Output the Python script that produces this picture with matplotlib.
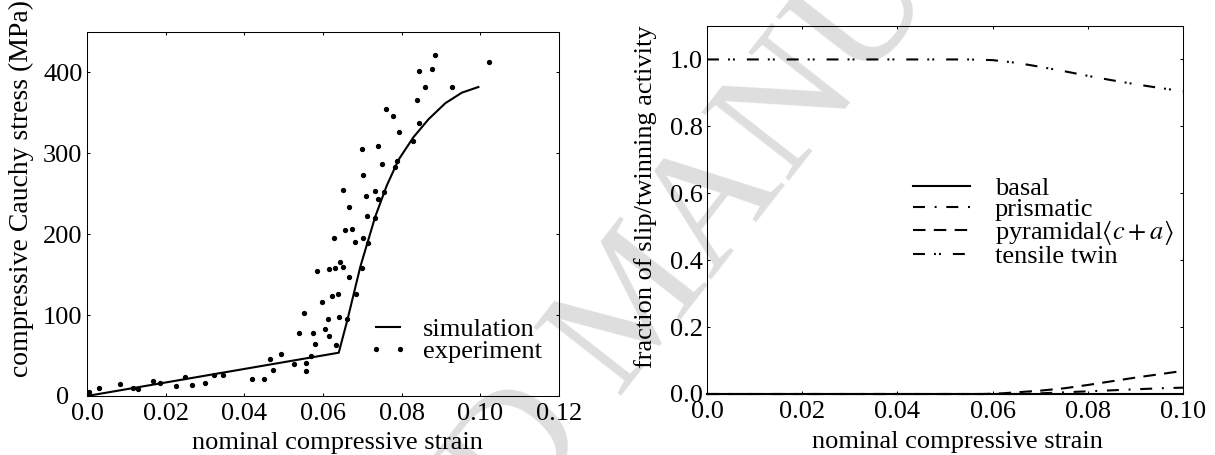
import matplotlib
matplotlib.use("Agg")
import matplotlib.pyplot as plt

plt.rcParams['font.family'] = ['Liberation Serif', 'DejaVu Serif']
plt.rcParams['mathtext.fontset'] = 'stix'
plt.rcParams['font.size'] = 19
plt.rcParams['lines.scale_dashes'] = False

# left panel: stress-strain
sim_strain = [0, 0.064, 0.0662, 0.0695, 0.0733, 0.0762, 0.0792, 0.083, 0.0868, 0.0911, 0.0953, 0.0995]
sim_stress = [0, 53.5, 94, 160, 222, 260, 292, 320, 342, 362, 375, 382]

exp_strain = [0.0006, 0.0031, 0.0085, 0.0117, 0.0130, 0.0169, 0.0185, 0.0227, 0.0250, 0.0268,
              0.0301, 0.0324, 0.0347, 0.0419, 0.0451, 0.0466, 0.0473, 0.0492, 0.0526, 0.0538,
              0.0552, 0.0556, 0.0558, 0.0569, 0.0575, 0.0579, 0.0586, 0.0597, 0.0605, 0.0612,
              0.0615, 0.0615, 0.0622, 0.0627, 0.0630, 0.0633, 0.0638, 0.0640, 0.0642, 0.0650,
              0.0652, 0.0657, 0.0662, 0.0665, 0.0665, 0.0674, 0.0682, 0.0683, 0.0699, 0.0700,
              0.0701, 0.0702, 0.0709, 0.0711, 0.0714, 0.0731, 0.0733, 0.0739, 0.0741, 0.0751,
              0.0756, 0.0760, 0.0778, 0.0784, 0.0789, 0.0792, 0.0830, 0.0839, 0.0843, 0.0843,
              0.0860, 0.0877, 0.0885, 0.0929, 0.1023]
exp_stress = [5, 9.5, 14.4, 9.5, 8.7, 19, 16.5, 12.4, 23, 13.2,
              16, 26.4, 25.6, 20.6, 21.5, 45.8, 32, 52, 40, 77.6,
              103, 31.4, 41.3, 49.5, 78.4, 64, 154.8, 116.8, 83, 95.4,
              74.3, 156.9, 123.8, 195, 157.7, 63.6, 126.7, 98, 165.5, 159,
              255, 205.6, 95, 147, 233.6, 206.4, 190.7, 126, 158, 305.5,
              273, 195.7, 247, 223, 188.6, 254, 220, 309, 243.5, 287,
              252, 355, 346.7, 283, 291, 326.5, 315.8, 365.7, 337, 401.7,
              381.8, 404, 421, 382, 413]

left_xticks = [0, 0.02, 0.04, 0.06, 0.08, 0.10, 0.12]
left_xlabels = ["0.0", "0.02", "0.04", "0.06", "0.08", "0.10", "0.12"]
left_yticks = [0, 100, 200, 300, 400]
left_ylabels = ["0", "100", "200", "300", "400"]

# right panel: activity fractions
basal_x = [0, 0.1]
basal_y = [0, 0]
prism_x = [0, 0.065, 0.07, 0.075, 0.08, 0.085, 0.09, 0.095, 0.1]
prism_y = [0, 0, 0.002, 0.005, 0.008, 0.011, 0.014, 0.017, 0.019]
pyr_x = [0, 0.058, 0.062, 0.066, 0.07, 0.075, 0.08, 0.085, 0.09, 0.095, 0.1]
pyr_y = [0, 0, 0.002, 0.006, 0.010, 0.017, 0.027, 0.038, 0.049, 0.059, 0.069]
twin_x = [0, 0.055, 0.06, 0.065, 0.07, 0.075, 0.08, 0.085, 0.09, 0.095, 0.1]
twin_y = [1.0, 1.0, 0.998, 0.99, 0.978, 0.965, 0.951, 0.938, 0.926, 0.915, 0.905]

right_xticks = [0, 0.02, 0.04, 0.06, 0.08, 0.10]
right_xlabels = ["0.0", "0.02", "0.04", "0.06", "0.08", "0.10"]
right_yticks = [0, 0.2, 0.4, 0.6, 0.8, 1.0]
right_ylabels = ["0.0", "0.2", "0.4", "0.6", "0.8", "1.0"]

fig = plt.figure(figsize=(12.15, 4.55), dpi=100)

# faint watermark behind both panels
fig.text(640 / 1215, 1 - 305 / 455, "ACCEPTED MANUSCRIPT", rotation=52,
         rotation_mode='anchor', ha='center', va='center', fontsize=122,
         color='0.87', zorder=-1)

ax1 = fig.add_axes([87 / 1215, 59 / 455, 472 / 1215, 364 / 455])
ax2 = fig.add_axes([707 / 1215, 61 / 455, 476 / 1215, 368 / 455])

for ax in (ax1, ax2):
    ax.set_facecolor('none')
    ax.tick_params(direction='in', top=True, right=True, length=2.5, width=0.75)
    for s in ax.spines.values():
        s.set_linewidth(0.75)

ax1.plot(sim_strain, sim_stress, color='k', lw=1.5, label="simulation")
ax1.plot(exp_strain, exp_stress, 'o', color='k', markersize=2.8, ls='none', label="experiment")
ax1.set_xlim(0, 0.12)
ax1.set_ylim(0, 450)
ax1.set_xticks(left_xticks)
ax1.set_xticklabels(left_xlabels)
ax1.set_yticks(left_yticks)
ax1.set_yticklabels(left_ylabels)
ax1.tick_params(axis='x', pad=5)
ax1.tick_params(axis='y', pad=17.5)
for lab in ax1.get_yticklabels():
    lab.set_ha('center')
ax1.set_xlabel("nominal compressive strain")
ax1.set_ylabel("compressive Cauchy stress (MPa)", fontsize=20)
ax1.xaxis.set_label_coords(0.53, -0.098)
ax1.yaxis.set_label_coords(-0.112, 0.570)
ax1.legend(loc='upper left', bbox_to_anchor=(0.595, 0.216), frameon=False,
           borderpad=0, borderaxespad=0, handlelength=1.5, handletextpad=0.6,
           labelspacing=-0.06, numpoints=2)

ax2.plot(basal_x, basal_y, color='k', lw=1.5, clip_on=False, label="basal")
ax2.plot(prism_x, prism_y, color='k', lw=1.5, clip_on=False,
         ls=(0, (8.6, 7, 1.4, 7)), label="prismatic")
ax2.plot(pyr_x, pyr_y, color='k', lw=1.5, clip_on=False,
         ls=(0, (9, 6)), label=r"pyramidal$\langle c + a\rangle$")
ax2.plot(twin_x, twin_y, color='k', lw=1.5, clip_on=False,
         ls=(0, (8.6, 6.5, 1.4, 2.2, 1.4, 8.6)), label="tensile twin")
ax2.set_xlim(0, 0.1)
ax2.set_ylim(0, 1.1)
ax2.set_xticks(right_xticks)
ax2.set_xticklabels(right_xlabels)
ax2.set_yticks(right_yticks)
ax2.set_yticklabels(right_ylabels)
ax2.tick_params(axis='x', pad=5)
ax2.tick_params(axis='y', pad=3)
ax2.set_xlabel("nominal compressive strain")
ax2.set_ylabel("fraction of slip/twinning activity")
ax2.xaxis.set_label_coords(0.527, -0.101)
ax2.yaxis.set_label_coords(-0.105, 0.535)
ax2.legend(loc='upper left', bbox_to_anchor=(0.433, 0.591), frameon=False,
           borderpad=0, borderaxespad=0, handlelength=2.15, handletextpad=0.94,
           labelspacing=-0.1)

fig.savefig("out.png", dpi=100)
